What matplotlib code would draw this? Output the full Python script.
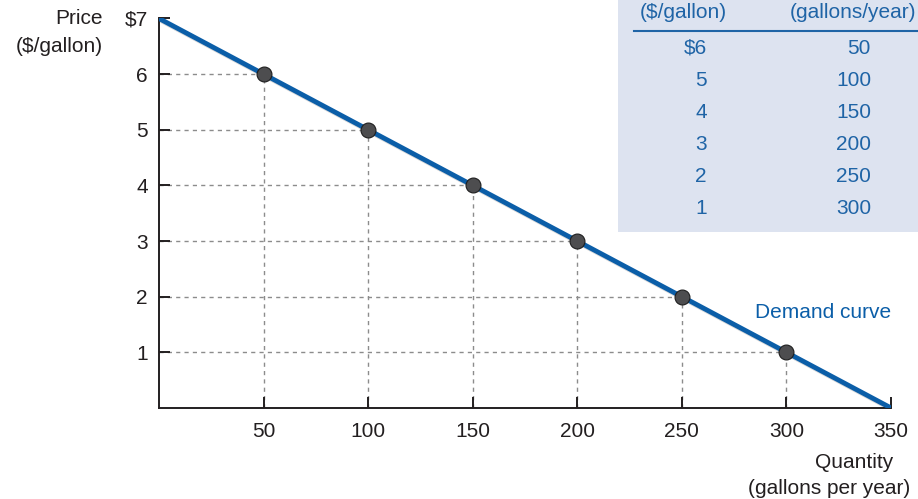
import matplotlib.pyplot as plt
import matplotlib.patheffects as pe
from matplotlib.patches import Rectangle

plt.rcParams["font.family"] = ["Liberation Sans", "DejaVu Sans"]

# demand schedule
prices = [6, 5, 4, 3, 2, 1]
quantities = [50, 100, 150, 200, 250, 300]
curve_q = [0, 350]
curve_p = [7, 0]

x_ticks = [50, 100, 150, 200, 250, 300, 350]
y_ticks = [1, 2, 3, 4, 5, 6, 7]
y_labels = ["1", "2", "3", "4", "5", "6", "$7"]
price_col = ["$6", "5", "4", "3", "2", "1"]
qty_col = ["50", "100", "150", "200", "250", "300"]

BLUE = "#0b5ea8"
TEXT = "#231f20"
TABLE_TEXT = "#1f64a6"
FS = 15

fig = plt.figure(figsize=(9.18, 4.99), dpi=100)
ax = fig.add_axes([0.1732, 0.1824, 0.7974, 0.7806])

# dashed guides from each point to the axes
for q, p in zip(quantities, prices):
    ax.plot([0, q], [p, p], ls=(0, (3, 3)), color="#8c8c8c", lw=1, zorder=1)
    ax.plot([q, q], [0, p], ls=(0, (3, 3)), color="#8c8c8c", lw=1, zorder=1)

ax.plot(curve_q, curve_p, color=BLUE, lw=3.5, zorder=3, solid_capstyle="butt",
        path_effects=[pe.SimpleLineShadow(offset=(1.5, -1.5), alpha=0.15), pe.Normal()])
ax.scatter(quantities, prices, s=115, color="#4d4d4f", edgecolor="#1e1e1e",
           linewidth=0.8, zorder=4)

ax.set_xlim(0, 350)
ax.set_ylim(0, 7)
ax.set_xticks(x_ticks)
ax.set_xticklabels([str(t) for t in x_ticks])
ax.set_yticks(y_ticks)
ax.set_yticklabels(y_labels)
for side in ["top", "right"]:
    ax.spines[side].set_visible(False)
for side in ["left", "bottom"]:
    ax.spines[side].set_linewidth(1.4)
    ax.spines[side].set_color(TEXT)
ax.tick_params(axis="both", direction="in", length=8, width=1.4, colors=TEXT,
               labelsize=FS, labelcolor=TEXT)
ax.tick_params(axis="x", pad=10)
ax.tick_params(axis="y", pad=8)

ax.text(350, 1.72, "Demand curve", color=BLUE, fontsize=FS,
        ha="right", va="center")

# axis titles
fig.text(103 / 918, 1 - 19 / 499, "Price", ha="right", va="center",
         fontsize=FS, color=TEXT)
fig.text(103 / 918, 1 - 47 / 499, "($/gallon)", ha="right", va="center",
         fontsize=FS, color=TEXT)
fig.text(893 / 918, 1 - 463 / 499, "Quantity", ha="right", va="center",
         fontsize=FS, color=TEXT)
fig.text(910 / 918, 1 - 488 / 499, "(gallons per year)", ha="right", va="center",
         fontsize=FS, color=TEXT)

# demand schedule table, top right
fig.patches.append(Rectangle((618 / 918, 1 - 232 / 499), 300 / 918, 232 / 499,
                             transform=fig.transFigure, facecolor="#dde3f0",
                             edgecolor="none", zorder=0))
fig.add_artist(plt.Line2D([634 / 918, 1.0], [1 - 31 / 499, 1 - 31 / 499],
                          transform=fig.transFigure, color=TABLE_TEXT, lw=1.5))
fig.text(683 / 918, 1 - 13 / 499, "($/gallon)", ha="center", va="center",
         fontsize=FS, color=TABLE_TEXT)
fig.text(916 / 918, 1 - 13 / 499, "(gallons/year)", ha="right", va="center",
         fontsize=FS, color=TABLE_TEXT)
for i, (pc, qc) in enumerate(zip(price_col, qty_col)):
    y = 1 - (48 + i * 32.2) / 499
    fig.text(707 / 918, y, pc, ha="right", va="center", fontsize=FS, color=TABLE_TEXT)
    fig.text(871 / 918, y, qc, ha="right", va="center", fontsize=FS, color=TABLE_TEXT)

fig.savefig("out.png", dpi=100)
